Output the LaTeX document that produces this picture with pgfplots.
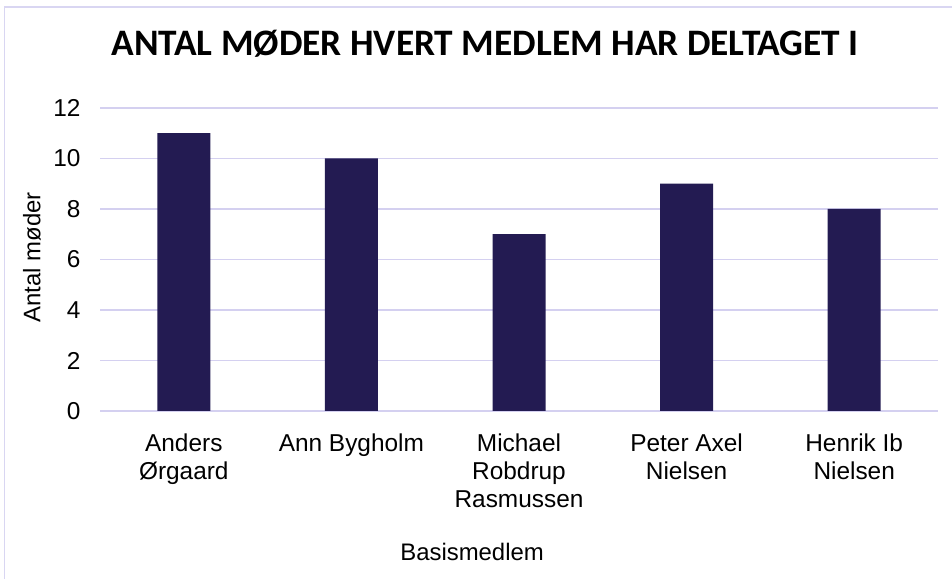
\documentclass[border=0pt]{standalone}
\usepackage{pgfplots}
\pgfplotsset{compat=1.18}
\usepackage{fontspec}
\setmainfont{Liberation Sans}
\newfontfamily\titlefont{Carlito}
\definecolor{barc}{RGB}{35,27,82}
\definecolor{gridc}{RGB}{212,208,240}
\definecolor{borderc}{RGB}{217,214,242}
\begin{document}
\begin{tikzpicture}
\useasboundingbox (0,0) rectangle (952bp,579bp);
\draw[borderc, line width=1.5bp] (4.5bp,-5bp) -- (4.5bp,572bp) -- (960bp,572bp);
\node[font=\titlefont\bfseries\fontsize{37.5}{42}\selectfont] at (485bp,535bp) {ANTAL MØDER HVERT MEDLEM HAR DELTAGET I};
\begin{axis}[
  at={(100bp,168bp)}, anchor=south west,
  scale only axis, width=838bp, height=303bp,
  xmin=-0.5, xmax=4.5, ymin=0, ymax=12,
  ytick={0,2,...,12},
  xtick=data,
  xticklabels={{Anders\\Ørgaard},{Ann Bygholm},{Michael\\Robdrup\\Rasmussen},{Peter Axel\\Nielsen},{Henrik Ib\\Nielsen}},
  xticklabel style={align=center, font=\fontsize{24.5}{28.5}\selectfont, yshift=-19bp},
  yticklabel style={font=\fontsize{24.5}{28.5}\selectfont, xshift=-16bp},
  /pgf/number format/assume math mode=true,
  major tick length=0pt,
  axis line style={draw=none},
  ymajorgrids, grid style={gridc, line width=1.8bp},
  xlabel={Basismedlem}, ylabel={Antal møder},
  xlabel style={at={(rel axis cs:0.444,-0.465)}, anchor=center, font=\fontsize{24}{28}\selectfont},
  ylabel style={at={(rel axis cs:-0.0811,0.507)}, anchor=center, rotate=0, font=\fontsize{24}{28}\selectfont},
]
\addplot[ybar, bar width=53bp, fill=barc, draw=none] coordinates {(0,11) (1,10) (2,7) (3,9) (4,8)};
\end{axis}
\end{tikzpicture}
\end{document}
